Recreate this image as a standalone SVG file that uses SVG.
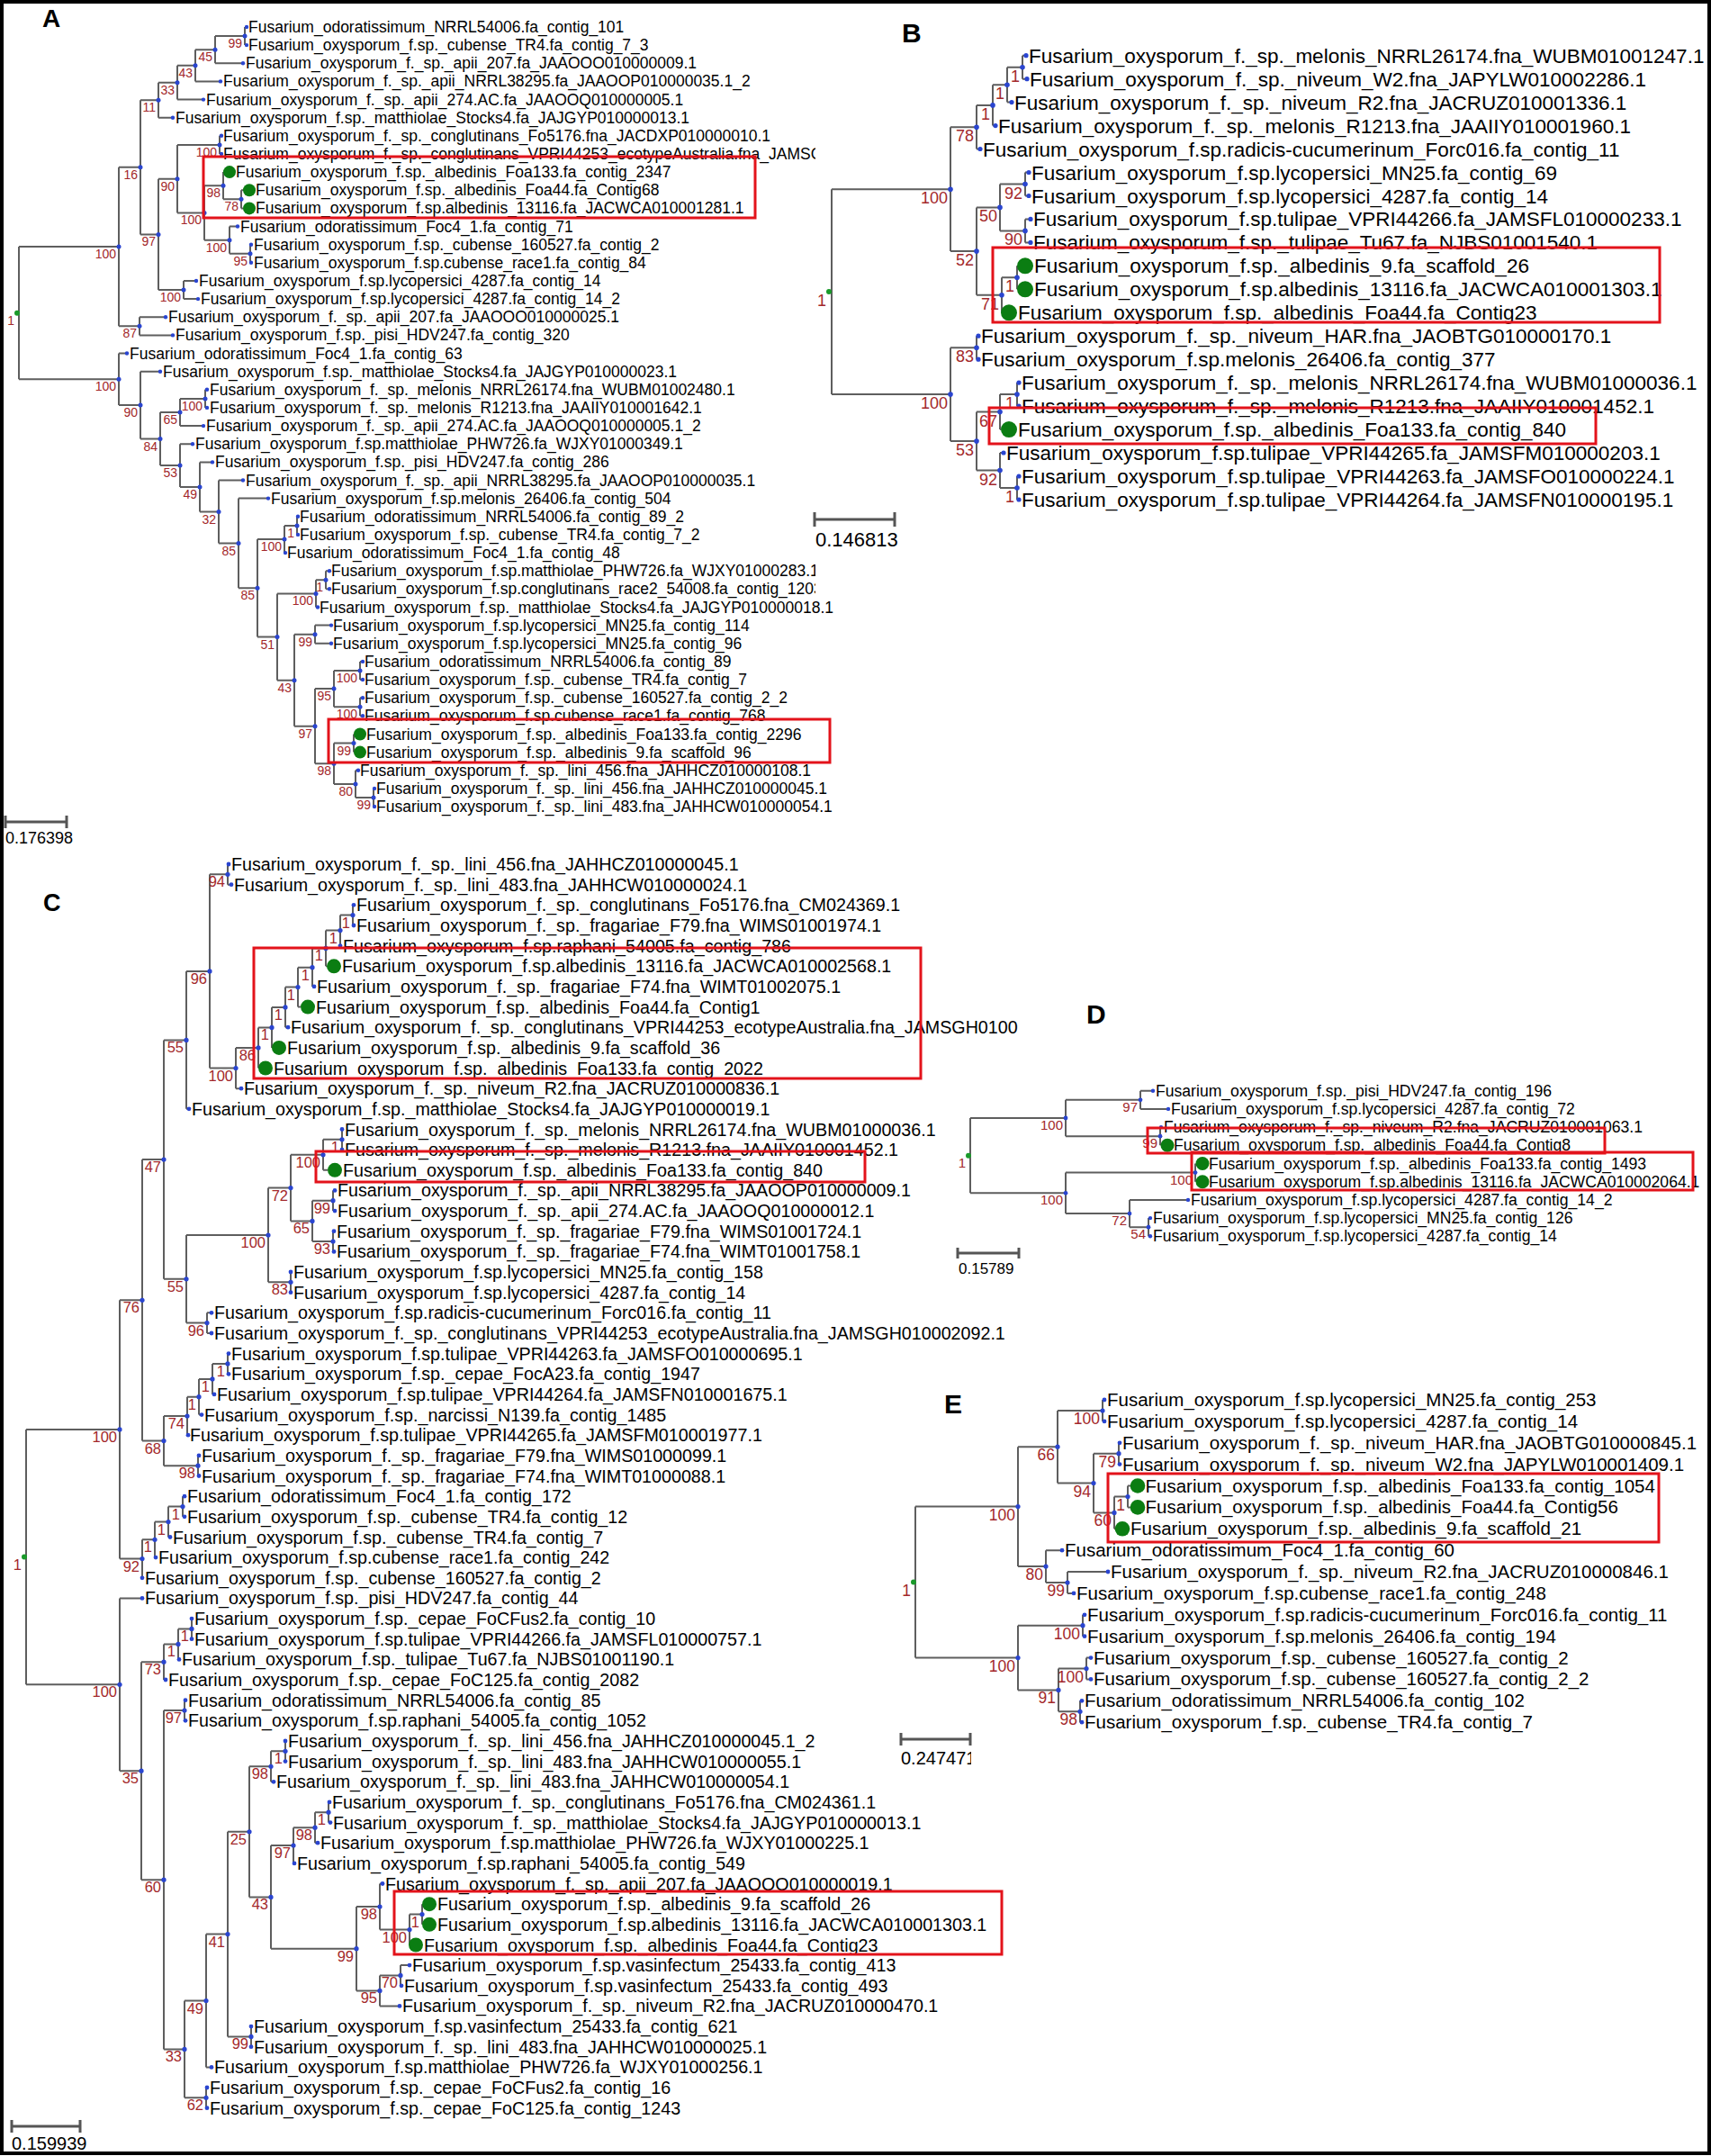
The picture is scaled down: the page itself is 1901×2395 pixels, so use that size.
<svg xmlns="http://www.w3.org/2000/svg" width="1901" height="2395" viewBox="0 0 1901 2395">
<style>
.t{font-family:"Liberation Sans",Arial,sans-serif;fill:#000}
.ta{font-size:17.5px}.tb{font-size:22.5px}.tc{font-size:19.7px}.td{font-size:17.6px}.te{font-size:20.5px}
.bs{font-family:"Liberation Sans",Arial,sans-serif;fill:#a3282b;text-anchor:end}
.ba{font-size:14px}.bb{font-size:18px}.bc{font-size:16.5px}.bq{font-size:15px}.be{font-size:17.5px}
.br{fill:none;stroke:#5e5e5e;stroke-width:2}
.nd{fill:#2a45d0}
.gd{fill:#0b7d12}
.rt{fill:#1a9a2a}
.box{fill:none;stroke:#e3131b;stroke-width:3}
.pl{font-family:"Liberation Sans",Arial,sans-serif;font-weight:bold;fill:#000}
.sb{fill:none;stroke:#555;stroke-width:3}
.st{font-family:"Liberation Sans",Arial,sans-serif;fill:#000}
</style>
<defs>
<clipPath id="clipA"><rect x="0" y="0" width="906" height="665"/><rect x="0" y="665" width="1901" height="280"/></clipPath>
<clipPath id="clipC"><rect x="0" y="940" width="1131" height="1450"/></clipPath>
<clipPath id="clipE"><rect x="990" y="1935" width="89" height="40"/></clipPath>
</defs>
<rect x="0" y="0" width="1901" height="2395" fill="#fff"/>

<!-- ================= PANEL A ================= -->
<text class="pl" x="47" y="30" font-size="28">A</text>
<g id="A-connectors">
<path class="br" d="M21 274.1V421.3M21 274.1H132M21 421.3H132
M132 185.8V362.3M132 185.8H156M132 362.3H155
M156 111.2V260.4M156 111.2H176M156 260.4H176
M176 91.7V130.7M176 91.7H197M176 130.7H192
M197 72.8V110.6M197 72.8H217M197 110.6H226
M217 55.2V90.4M217 55.2H239M217 90.4H245
M239 40.1V70.3M239 40.1H272M239 70.3H270
M272 30V50.1M272 30H274M272 50.1H274
M176 198.7V322M176 198.7H197M176 322H204
M197 160.9V236.4M197 160.9H244M197 236.4H227
M244 150.8V171M244 150.8H246M244 171H246
M227 206.2V266.7M227 206.2H248M227 266.7H255
M248 191.1V221.3M248 221.3H268
M268 211.3V231.4M268 211.3H270M268 231.4H270
M255 251.5V281.8M255 251.5H264M255 281.8H278
M278 271.7V291.8M278 271.7H279M278 291.8H279
M204 312V332.1M204 312H218M204 332.1H220
M155 352.2V372.4M155 352.2H184M155 372.4H192
M132 392.5V450.1M132 392.5H141M132 450.1H156
M156 412.7V487.5M156 412.7H178M156 487.5H178
M178 458V517.1M178 458H200M178 517.1H200
M200 442.9V473.1M200 442.9H228M200 473.1H226
M228 432.8V452.9M228 432.8H230M228 452.9H230
M200 493.2V540.9M200 493.2H214M200 540.9H222
M222 513.4V568.5M222 513.4H236M222 568.5H243
M243 533.5V603.5M243 533.5H270M243 603.5H265
M265 553.6V653.3M265 553.6H298M265 653.3H286
M286 599V707.5M286 599H316M286 707.5H308
M316 583.9V614.1M316 583.9H330M316 614.1H317
M330 573.8V593.9M330 573.8H331M330 593.9H331
M308 659.4V755.7M308 659.4H351M308 755.7H327
M351 644.3V674.5M351 644.3H362M351 674.5H353
M362 634.2V654.3M362 634.2H366M362 654.3H366
M327 704.7V806.7M327 704.7H350M327 806.7H350
M350 694.6V714.8M350 694.6H368M350 714.8H368
M350 765.1V848.2M350 765.1H371M350 848.2H371
M371 745V785.3M371 745H400M371 785.3H400
M400 734.9V755M400 734.9H403M400 755H403
M400 775.2V795.3M400 775.2H403M400 795.3H403
M371 825.5V870.9M371 825.5H393M371 870.9H395
M393 815.5V835.6
M395 855.7V886M395 855.7H398M395 886H415
M415 875.9V896M415 875.9H416M415 896H416"/>
</g>
<g id="A-internal">
<g id="A-root"><circle class="rt" cx="19" cy="347.7" r="3"/><text class="bs ba" x="16" y="360.7">1</text></g>
<g id="A-n99"><circle class="nd" cx="272" cy="40.1" r="2.5"/><text class="bs ba" x="269" y="53.1">99</text></g>
<g id="A-n45"><circle class="nd" cx="239" cy="55.2" r="2.5"/><text class="bs ba" x="236" y="68.2">45</text></g>
<g id="A-n43"><circle class="nd" cx="217" cy="72.8" r="2.5"/><text class="bs ba" x="214" y="85.8">43</text></g>
<g id="A-n33"><circle class="nd" cx="197" cy="91.7" r="2.5"/><text class="bs ba" x="194" y="104.7">33</text></g>
<g id="A-n11"><circle class="nd" cx="176" cy="111.2" r="2.5"/><text class="bs ba" x="173" y="124.2">11</text></g>
<g id="A-n16"><circle class="nd" cx="156" cy="185.8" r="2.5"/><text class="bs ba" x="153" y="198.8">16</text></g>
<g id="A-nCong"><circle class="nd" cx="244" cy="160.9" r="2.5"/><text class="bs ba" x="241" y="173.9">100</text></g>
<g id="A-n98"><circle class="nd" cx="248" cy="206.2" r="2.5"/><text class="bs ba" x="245" y="219.2">98</text></g>
<g id="A-n78"><circle class="nd" cx="268" cy="221.3" r="2.5"/><text class="bs ba" x="265" y="234.3">78</text></g>
<g id="A-nX"><circle class="nd" cx="227" cy="236.4" r="2.5"/><text class="bs ba" x="224" y="249.4">100</text></g>
<g id="A-n100c"><circle class="nd" cx="255" cy="266.7" r="2.5"/><text class="bs ba" x="252" y="279.7">100</text></g>
<g id="A-n95"><circle class="nd" cx="278" cy="281.8" r="2.5"/><text class="bs ba" x="275" y="294.8">95</text></g>
<g id="A-n90"><circle class="nd" cx="197" cy="198.7" r="2.5"/><text class="bs ba" x="194" y="211.7">90</text></g>
<g id="A-n97"><circle class="nd" cx="176" cy="260.4" r="2.5"/><text class="bs ba" x="173" y="273.4">97</text></g>
<g id="A-nLyc"><circle class="nd" cx="204" cy="322" r="2.5"/><text class="bs ba" x="201" y="335">100</text></g>
<g id="A-nTop"><circle class="nd" cx="132" cy="274.1" r="2.5"/><text class="bs ba" x="129" y="287.1">100</text></g>
<g id="A-n87"><circle class="nd" cx="155" cy="362.3" r="2.5"/><text class="bs ba" x="152" y="375.3">87</text></g>
<g id="A-nBot"><circle class="nd" cx="132" cy="421.3" r="2.5"/><text class="bs ba" x="129" y="434.3">100</text></g>
<g id="A-n90b"><circle class="nd" cx="156" cy="450.1" r="2.5"/><text class="bs ba" x="153" y="463.1">90</text></g>
<g id="A-n84"><circle class="nd" cx="178" cy="487.5" r="2.5"/><text class="bs ba" x="175" y="500.5">84</text></g>
<g id="A-n65"><circle class="nd" cx="200" cy="458" r="2.5"/><text class="bs ba" x="197" y="471">65</text></g>
<g id="A-n100m"><circle class="nd" cx="228" cy="442.9" r="2.5"/><text class="bs ba" x="225" y="455.9">100</text></g>
<g id="A-n53"><circle class="nd" cx="200" cy="517.1" r="2.5"/><text class="bs ba" x="197" y="530.1">53</text></g>
<g id="A-n49"><circle class="nd" cx="222" cy="540.9" r="2.5"/><text class="bs ba" x="219" y="553.9">49</text></g>
<g id="A-n32"><circle class="nd" cx="243" cy="568.5" r="2.5"/><text class="bs ba" x="240" y="581.5">32</text></g>
<g id="A-n85a"><circle class="nd" cx="265" cy="603.5" r="2.5"/><text class="bs ba" x="262" y="616.5">85</text></g>
<g id="A-n85b"><circle class="nd" cx="286" cy="653.3" r="2.5"/><text class="bs ba" x="283" y="666.3">85</text></g>
<g id="A-n100s1"><circle class="nd" cx="316" cy="599" r="2.5"/><text class="bs ba" x="313" y="612">100</text></g>
<g id="A-n1a"><circle class="nd" cx="330" cy="583.9" r="2.5"/><text class="bs ba" x="327" y="596.9">1</text></g>
<g id="A-n51"><circle class="nd" cx="308" cy="707.5" r="2.5"/><text class="bs ba" x="305" y="720.5">51</text></g>
<g id="A-n100s"><circle class="nd" cx="351" cy="659.4" r="2.5"/><text class="bs ba" x="348" y="672.4">100</text></g>
<g id="A-n1b"><circle class="nd" cx="362" cy="644.3" r="2.5"/><text class="bs ba" x="359" y="657.3">1</text></g>
<g id="A-n43b"><circle class="nd" cx="327" cy="755.7" r="2.5"/><text class="bs ba" x="324" y="768.7">43</text></g>
<g id="A-n99l"><circle class="nd" cx="350" cy="704.7" r="2.5"/><text class="bs ba" x="347" y="717.7">99</text></g>
<g id="A-n97b"><circle class="nd" cx="350" cy="806.7" r="2.5"/><text class="bs ba" x="347" y="819.7">97</text></g>
<g id="A-n95b"><circle class="nd" cx="371" cy="765.1" r="2.5"/><text class="bs ba" x="368" y="778.1">95</text></g>
<g id="A-n100p"><circle class="nd" cx="400" cy="745" r="2.5"/><text class="bs ba" x="397" y="758">100</text></g>
<g id="A-n100q"><circle class="nd" cx="400" cy="785.3" r="2.5"/><text class="bs ba" x="397" y="798.3">100</text></g>
<g id="A-n98b"><circle class="nd" cx="371" cy="848.2" r="2.5"/><text class="bs ba" x="368" y="861.2">98</text></g>
<g id="A-n99a"><circle class="nd" cx="393" cy="825.5" r="2.5"/><text class="bs ba" x="390" y="838.5">99</text></g>
<g id="A-n80"><circle class="nd" cx="395" cy="870.9" r="2.5"/><text class="bs ba" x="392" y="883.9">80</text></g>
<g id="A-n99lini"><circle class="nd" cx="415" cy="886" r="2.5"/><text class="bs ba" x="412" y="899">99</text></g>
</g>
<g id="A-leaves" clip-path="url(#clipA)">
<g id="A1"><circle class="nd" cx="274" cy="30" r="2.2"/><text class="t ta" x="276" y="36">Fusarium_odoratissimum_NRRL54006.fa_contig_101</text></g>
<g id="A2"><circle class="nd" cx="274" cy="50.1" r="2.2"/><text class="t ta" x="276" y="56.1">Fusarium_oxysporum_f.sp._cubense_TR4.fa_contig_7_3</text></g>
<g id="A3"><circle class="nd" cx="270" cy="70.3" r="2.2"/><text class="t ta" x="273" y="76.3">Fusarium_oxysporum_f._sp._apii_207.fa_JAAOOO010000009.1</text></g>
<g id="A4"><circle class="nd" cx="245" cy="90.4" r="2.2"/><text class="t ta" x="248" y="96.4">Fusarium_oxysporum_f._sp._apii_NRRL38295.fa_JAAOOP010000035.1_2</text></g>
<g id="A5"><circle class="nd" cx="226" cy="110.6" r="2.2"/><text class="t ta" x="229" y="116.6">Fusarium_oxysporum_f._sp._apii_274.AC.fa_JAAOOQ010000005.1</text></g>
<g id="A6"><circle class="nd" cx="192" cy="130.7" r="2.2"/><text class="t ta" x="195" y="136.7">Fusarium_oxysporum_f.sp._matthiolae_Stocks4.fa_JAJGYP010000013.1</text></g>
<g id="A7"><circle class="nd" cx="246" cy="150.8" r="2.2"/><text class="t ta" x="248" y="156.8">Fusarium_oxysporum_f._sp._conglutinans_Fo5176.fna_JACDXP010000010.1</text></g>
<g id="A8"><circle class="nd" cx="246" cy="171" r="2.2"/><text class="t ta" x="248" y="177">Fusarium_oxysporum_f._sp._conglutinans_VPRI44253_ecotypeAustralia.fna_JAMSGH010000000.1</text></g>
<g id="A9"><circle class="gd" cx="255" cy="191.1" r="7"/><text class="t ta" x="262" y="197.1">Fusarium_oxysporum_f.sp._albedinis_Foa133.fa_contig_2347</text></g>
<g id="A10"><circle class="gd" cx="277" cy="211.3" r="7"/><text class="t ta" x="284" y="217.3">Fusarium_oxysporum_f.sp._albedinis_Foa44.fa_Contig68</text></g>
<g id="A11"><circle class="gd" cx="277" cy="231.4" r="7"/><text class="t ta" x="284" y="237.4">Fusarium_oxysporum_f.sp.albedinis_13116.fa_JACWCA010001281.1</text></g>
<g id="A12"><circle class="nd" cx="264" cy="251.5" r="2.2"/><text class="t ta" x="267" y="257.5">Fusarium_odoratissimum_Foc4_1.fa_contig_71</text></g>
<g id="A13"><circle class="nd" cx="279" cy="271.7" r="2.2"/><text class="t ta" x="282" y="277.7">Fusarium_oxysporum_f.sp._cubense_160527.fa_contig_2</text></g>
<g id="A14"><circle class="nd" cx="279" cy="291.8" r="2.2"/><text class="t ta" x="282" y="297.8">Fusarium_oxysporum_f.sp.cubense_race1.fa_contig_84</text></g>
<g id="A15"><circle class="nd" cx="218" cy="312" r="2.2"/><text class="t ta" x="221" y="318">Fusarium_oxysporum_f.sp.lycopersici_4287.fa_contig_14</text></g>
<g id="A16"><circle class="nd" cx="220" cy="332.1" r="2.2"/><text class="t ta" x="223" y="338.1">Fusarium_oxysporum_f.sp.lycopersici_4287.fa_contig_14_2</text></g>
<g id="A17"><circle class="nd" cx="184" cy="352.2" r="2.2"/><text class="t ta" x="187" y="358.2">Fusarium_oxysporum_f._sp._apii_207.fa_JAAOOO010000025.1</text></g>
<g id="A18"><circle class="nd" cx="192" cy="372.4" r="2.2"/><text class="t ta" x="195" y="378.4">Fusarium_oxysporum_f.sp._pisi_HDV247.fa_contig_320</text></g>
<g id="A19"><circle class="nd" cx="141" cy="392.5" r="2.2"/><text class="t ta" x="144" y="398.5">Fusarium_odoratissimum_Foc4_1.fa_contig_63</text></g>
<g id="A20"><circle class="nd" cx="178" cy="412.7" r="2.2"/><text class="t ta" x="181" y="418.7">Fusarium_oxysporum_f.sp._matthiolae_Stocks4.fa_JAJGYP010000023.1</text></g>
<g id="A21"><circle class="nd" cx="230" cy="432.8" r="2.2"/><text class="t ta" x="233" y="438.8">Fusarium_oxysporum_f._sp._melonis_NRRL26174.fna_WUBM01002480.1</text></g>
<g id="A22"><circle class="nd" cx="230" cy="452.9" r="2.2"/><text class="t ta" x="233" y="458.9">Fusarium_oxysporum_f._sp._melonis_R1213.fna_JAAIIY010001642.1</text></g>
<g id="A23"><circle class="nd" cx="226" cy="473.1" r="2.2"/><text class="t ta" x="229" y="479.1">Fusarium_oxysporum_f._sp._apii_274.AC.fa_JAAOOQ010000005.1_2</text></g>
<g id="A24"><circle class="nd" cx="214" cy="493.2" r="2.2"/><text class="t ta" x="217" y="499.2">Fusarium_oxysporum_f.sp.matthiolae_PHW726.fa_WJXY01000349.1</text></g>
<g id="A25"><circle class="nd" cx="236" cy="513.4" r="2.2"/><text class="t ta" x="239" y="519.4">Fusarium_oxysporum_f.sp._pisi_HDV247.fa_contig_286</text></g>
<g id="A26"><circle class="nd" cx="270" cy="533.5" r="2.2"/><text class="t ta" x="273" y="539.5">Fusarium_oxysporum_f._sp._apii_NRRL38295.fa_JAAOOP010000035.1</text></g>
<g id="A27"><circle class="nd" cx="298" cy="553.6" r="2.2"/><text class="t ta" x="301" y="559.6">Fusarium_oxysporum_f.sp.melonis_26406.fa_contig_504</text></g>
<g id="A28"><circle class="nd" cx="331" cy="573.8" r="2.2"/><text class="t ta" x="333" y="579.8">Fusarium_odoratissimum_NRRL54006.fa_contig_89_2</text></g>
<g id="A29"><circle class="nd" cx="331" cy="593.9" r="2.2"/><text class="t ta" x="333" y="599.9">Fusarium_oxysporum_f.sp._cubense_TR4.fa_contig_7_2</text></g>
<g id="A30"><circle class="nd" cx="317" cy="614.1" r="2.2"/><text class="t ta" x="319" y="620.1">Fusarium_odoratissimum_Foc4_1.fa_contig_48</text></g>
<g id="A31"><circle class="nd" cx="366" cy="634.2" r="2.2"/><text class="t ta" x="368" y="640.2">Fusarium_oxysporum_f.sp.matthiolae_PHW726.fa_WJXY01000283.1</text></g>
<g id="A32"><circle class="nd" cx="366" cy="654.3" r="2.2"/><text class="t ta" x="368" y="660.3">Fusarium_oxysporum_f.sp.conglutinans_race2_54008.fa_contig_1203</text></g>
<g id="A33"><circle class="nd" cx="353" cy="674.5" r="2.2"/><text class="t ta" x="355" y="680.5">Fusarium_oxysporum_f.sp._matthiolae_Stocks4.fa_JAJGYP010000018.1</text></g>
<g id="A34"><circle class="nd" cx="368" cy="694.6" r="2.2"/><text class="t ta" x="370" y="700.6">Fusarium_oxysporum_f.sp.lycopersici_MN25.fa_contig_114</text></g>
<g id="A35"><circle class="nd" cx="368" cy="714.8" r="2.2"/><text class="t ta" x="370" y="720.8">Fusarium_oxysporum_f.sp.lycopersici_MN25.fa_contig_96</text></g>
<g id="A36"><circle class="nd" cx="403" cy="734.9" r="2.2"/><text class="t ta" x="405" y="740.9">Fusarium_odoratissimum_NRRL54006.fa_contig_89</text></g>
<g id="A37"><circle class="nd" cx="403" cy="755" r="2.2"/><text class="t ta" x="405" y="761">Fusarium_oxysporum_f.sp._cubense_TR4.fa_contig_7</text></g>
<g id="A38"><circle class="nd" cx="403" cy="775.2" r="2.2"/><text class="t ta" x="405" y="781.2">Fusarium_oxysporum_f.sp._cubense_160527.fa_contig_2_2</text></g>
<g id="A39"><circle class="nd" cx="403" cy="795.3" r="2.2"/><text class="t ta" x="405" y="801.3">Fusarium_oxysporum_f.sp.cubense_race1.fa_contig_768</text></g>
<g id="A40"><circle class="gd" cx="400" cy="815.5" r="7"/><text class="t ta" x="407" y="821.5">Fusarium_oxysporum_f.sp._albedinis_Foa133.fa_contig_2296</text></g>
<g id="A41"><circle class="gd" cx="400" cy="835.6" r="7"/><text class="t ta" x="407" y="841.6">Fusarium_oxysporum_f.sp._albedinis_9.fa_scaffold_96</text></g>
<g id="A42"><circle class="nd" cx="398" cy="855.7" r="2.2"/><text class="t ta" x="400" y="861.7">Fusarium_oxysporum_f._sp._lini_456.fna_JAHHCZ010000108.1</text></g>
<g id="A43"><circle class="nd" cx="416" cy="875.9" r="2.2"/><text class="t ta" x="418" y="881.9">Fusarium_oxysporum_f._sp._lini_456.fna_JAHHCZ010000045.1</text></g>
<g id="A44"><circle class="nd" cx="416" cy="896" r="2.2"/><text class="t ta" x="418" y="902">Fusarium_oxysporum_f._sp._lini_483.fna_JAHHCW010000054.1</text></g>
</g>
<g id="A-boxes"><rect class="box" x="226" y="174" width="613" height="68"/><rect class="box" x="365" y="799" width="557" height="48"/></g>
<g id="A-scale"><path class="sb" d="M6 913H74M6 906V920M74 906V920"/><text class="st" x="6" y="937" font-size="18">0.176398</text></g>

<!-- ================= PANEL B ================= -->
<text class="pl" x="1002" y="47" font-size="30">B</text>
<g id="B-connectors">
<path class="br" d="M924 210.2V438.1M924 210.2H1056M924 438.1H1056
M1056 141.2V279.1M1056 141.2H1085M1056 279.1H1085
M1085 116.9V165.5M1085 116.9H1103M1085 165.5H1089
M1103 94.2V139.6M1103 94.2H1119M1103 139.6H1106
M1119 74.7V113.6M1119 74.7H1136M1119 113.6H1124
M1136 61.7V87.7M1136 61.7H1140M1136 87.7H1141
M1085 230.4V327.8M1085 230.4H1111M1085 327.8H1113
M1111 204.5V256.4M1111 204.5H1139M1111 256.4H1139
M1139 191.5V217.5M1139 191.5H1143M1139 217.5H1143
M1139 243.4V269.4M1139 243.4H1145M1139 269.4H1145
M1113 308.3V347.3M1113 308.3H1130
M1130 295.3V321.3
M1056 386.2V490.1M1056 386.2H1085M1056 490.1H1085
M1085 373.2V399.2M1085 373.2H1087M1085 399.2H1087
M1085 457.6V522.5M1085 457.6H1111M1085 522.5H1111
M1111 438.1V477.1M1111 438.1H1130M1111 477.1H1112
M1130 425.1V451.1M1130 425.1H1132M1130 451.1H1132
M1111 503V542M1111 503H1115M1111 542H1130
M1130 529V555M1130 529H1132M1130 555H1132"/>
</g>
<g id="B-internal">
<g id="B-root"><circle class="rt" cx="921" cy="324.1" r="3"/><text class="bs bb" x="918" y="340.1">1</text></g>
<g id="B-n1c"><circle class="nd" cx="1136" cy="74.7" r="2.8"/><text class="bs bb" x="1133" y="90.7">1</text></g>
<g id="B-n1b"><circle class="nd" cx="1119" cy="94.2" r="2.8"/><text class="bs bb" x="1116" y="110.2">1</text></g>
<g id="B-n1a"><circle class="nd" cx="1103" cy="116.9" r="2.8"/><text class="bs bb" x="1100" y="132.9">1</text></g>
<g id="B-n78"><circle class="nd" cx="1085" cy="141.2" r="2.8"/><text class="bs bb" x="1082" y="157.2">78</text></g>
<g id="B-nT100"><circle class="nd" cx="1056" cy="210.2" r="2.8"/><text class="bs bb" x="1053" y="226.2">100</text></g>
<g id="B-n92"><circle class="nd" cx="1139" cy="204.5" r="2.8"/><text class="bs bb" x="1136" y="220.5">92</text></g>
<g id="B-n50"><circle class="nd" cx="1111" cy="230.4" r="2.8"/><text class="bs bb" x="1108" y="246.4">50</text></g>
<g id="B-n90"><circle class="nd" cx="1139" cy="256.4" r="2.8"/><text class="bs bb" x="1136" y="272.4">90</text></g>
<g id="B-n52"><circle class="nd" cx="1085" cy="279.1" r="2.8"/><text class="bs bb" x="1082" y="295.1">52</text></g>
<g id="B-n1g"><circle class="nd" cx="1130" cy="308.3" r="2.8"/><text class="bs bb" x="1127" y="324.3">1</text></g>
<g id="B-n71"><circle class="nd" cx="1113" cy="327.8" r="2.8"/><text class="bs bb" x="1110" y="343.8">71</text></g>
<g id="B-n83"><circle class="nd" cx="1085" cy="386.2" r="2.8"/><text class="bs bb" x="1082" y="402.2">83</text></g>
<g id="B-nB100"><circle class="nd" cx="1056" cy="438.1" r="2.8"/><text class="bs bb" x="1053" y="454.1">100</text></g>
<g id="B-n1m"><circle class="nd" cx="1130" cy="438.1" r="2.8"/><text class="bs bb" x="1127" y="454.1">1</text></g>
<g id="B-n67"><circle class="nd" cx="1111" cy="457.6" r="2.8"/><text class="bs bb" x="1108" y="473.6">67</text></g>
<g id="B-n53"><circle class="nd" cx="1085" cy="490.1" r="2.8"/><text class="bs bb" x="1082" y="506.1">53</text></g>
<g id="B-n92b"><circle class="nd" cx="1111" cy="522.5" r="2.8"/><text class="bs bb" x="1108" y="538.5">92</text></g>
<g id="B-n1t"><circle class="nd" cx="1130" cy="542" r="2.8"/><text class="bs bb" x="1127" y="558">1</text></g>
</g>
<g id="B-leaves">
<g id="B1"><circle class="nd" cx="1140" cy="61.7" r="2.6"/><text class="t tb" x="1143" y="69.7">Fusarium_oxysporum_f._sp._melonis_NRRL26174.fna_WUBM01001247.1</text></g>
<g id="B2"><circle class="nd" cx="1141" cy="87.7" r="2.6"/><text class="t tb" x="1144" y="95.7">Fusarium_oxysporum_f._sp._niveum_W2.fna_JAPYLW010002286.1</text></g>
<g id="B3"><circle class="nd" cx="1124" cy="113.6" r="2.6"/><text class="t tb" x="1127" y="121.6">Fusarium_oxysporum_f._sp._niveum_R2.fna_JACRUZ010001336.1</text></g>
<g id="B4"><circle class="nd" cx="1106" cy="139.6" r="2.6"/><text class="t tb" x="1109" y="147.6">Fusarium_oxysporum_f._sp._melonis_R1213.fna_JAAIIY010001960.1</text></g>
<g id="B5"><circle class="nd" cx="1089" cy="165.5" r="2.6"/><text class="t tb" x="1092" y="173.5">Fusarium_oxysporum_f.sp.radicis-cucumerinum_Forc016.fa_contig_11</text></g>
<g id="B6"><circle class="nd" cx="1143" cy="191.5" r="2.6"/><text class="t tb" x="1146" y="199.5">Fusarium_oxysporum_f.sp.lycopersici_MN25.fa_contig_69</text></g>
<g id="B7"><circle class="nd" cx="1143" cy="217.5" r="2.6"/><text class="t tb" x="1146" y="225.5">Fusarium_oxysporum_f.sp.lycopersici_4287.fa_contig_14</text></g>
<g id="B8"><circle class="nd" cx="1145" cy="243.4" r="2.6"/><text class="t tb" x="1148" y="251.4">Fusarium_oxysporum_f.sp.tulipae_VPRI44266.fa_JAMSFL010000233.1</text></g>
<g id="B9"><circle class="nd" cx="1145" cy="269.4" r="2.6"/><text class="t tb" x="1148" y="277.4">Fusarium_oxysporum_f.sp._tulipae_Tu67.fa_NJBS01001540.1</text></g>
<g id="B10"><circle class="gd" cx="1139" cy="295.3" r="9"/><text class="t tb" x="1149" y="303.3">Fusarium_oxysporum_f.sp._albedinis_9.fa_scaffold_26</text></g>
<g id="B11"><circle class="gd" cx="1139" cy="321.3" r="9"/><text class="t tb" x="1149" y="329.3">Fusarium_oxysporum_f.sp.albedinis_13116.fa_JACWCA010001303.1</text></g>
<g id="B12"><circle class="gd" cx="1121" cy="347.3" r="9"/><text class="t tb" x="1131" y="355.3">Fusarium_oxysporum_f.sp._albedinis_Foa44.fa_Contig23</text></g>
<g id="B13"><circle class="nd" cx="1087" cy="373.2" r="2.6"/><text class="t tb" x="1090" y="381.2">Fusarium_oxysporum_f._sp._niveum_HAR.fna_JAOBTG010000170.1</text></g>
<g id="B14"><circle class="nd" cx="1087" cy="399.2" r="2.6"/><text class="t tb" x="1090" y="407.2">Fusarium_oxysporum_f.sp.melonis_26406.fa_contig_377</text></g>
<g id="B15"><circle class="nd" cx="1132" cy="425.1" r="2.6"/><text class="t tb" x="1135" y="433.1">Fusarium_oxysporum_f._sp._melonis_NRRL26174.fna_WUBM01000036.1</text></g>
<g id="B16"><circle class="nd" cx="1132" cy="451.1" r="2.6"/><text class="t tb" x="1135" y="459.1">Fusarium_oxysporum_f._sp._melonis_R1213.fna_JAAIIY010001452.1</text></g>
<g id="B17"><circle class="gd" cx="1121" cy="477.1" r="9"/><text class="t tb" x="1131" y="485.1">Fusarium_oxysporum_f.sp._albedinis_Foa133.fa_contig_840</text></g>
<g id="B18"><circle class="nd" cx="1115" cy="503" r="2.6"/><text class="t tb" x="1118" y="511">Fusarium_oxysporum_f.sp.tulipae_VPRI44265.fa_JAMSFM010000203.1</text></g>
<g id="B19"><circle class="nd" cx="1132" cy="529" r="2.6"/><text class="t tb" x="1135" y="537">Fusarium_oxysporum_f.sp.tulipae_VPRI44263.fa_JAMSFO010000224.1</text></g>
<g id="B20"><circle class="nd" cx="1132" cy="555" r="2.6"/><text class="t tb" x="1135" y="563">Fusarium_oxysporum_f.sp.tulipae_VPRI44264.fa_JAMSFN010000195.1</text></g>
</g>
<g id="B-boxes"><rect class="box" x="1103" y="275" width="741" height="83"/><rect class="box" x="1099" y="453" width="674" height="40"/></g>
<g id="B-scale"><path class="sb" d="M905 577H994M905 569V585M994 569V585"/><text class="st" x="906" y="607" font-size="22">0.146813</text></g>

<!-- ================= PANEL C ================= -->
<text class="pl" x="48" y="1012" font-size="27">C</text>
<g id="C-connectors">
<path class="br" d="M29 1587.9V1871.3M29 1587.9H133M29 1871.3H133
M133 1444.3V1731.5M133 1444.3H158M133 1731.5H158
M158 1288.1V1600.6M158 1288.1H182M158 1600.6H182
M182 1155.4V1420.8M182 1155.4H207M182 1420.8H207
M207 1078.9V1231.8M207 1078.9H233M207 1231.8H210
M233 971.3V1186.5M233 971.3H253M233 1186.5H262
M253 960V982.7M253 960H254M253 982.7H257
M262 1163.9V1209.2M262 1163.9H287M262 1209.2H268
M287 1141.4V1186.5M287 1141.4H302
M302 1118.9V1163.9M302 1118.9H317
M317 1096.6V1141.2M317 1096.6H331M317 1141.2H320
M331 1074.7V1118.6M331 1074.7H347M331 1118.6H334
M347 1053.4V1095.9M347 1053.4H362M347 1095.9H349
M362 1033.6V1073.3M362 1033.6H378M362 1073.3H363
M378 1016.6V1050.6M378 1016.6H392
M392 1005.3V1028M392 1005.3H393M392 1028H393
M207 1372V1469.6M207 1372H298M207 1469.6H230
M298 1319.6V1424.3M298 1319.6H323M298 1424.3H323
M323 1282.8V1356.4M323 1282.8H359M323 1356.4H347
M359 1265.8V1299.8M359 1265.8H380M359 1299.8H364
M380 1254.5V1277.1
M347 1333.7V1379M347 1333.7H370M347 1379H370
M370 1322.4V1345.1M370 1322.4H372M370 1345.1H372
M370 1367.7V1390.4M370 1367.7H371M370 1390.4H371
M323 1413V1435.7
M230 1458.3V1481M230 1458.3H235M230 1481H235
M182 1573V1628.2M182 1573H208M182 1628.2H220
M208 1551.7V1594.2M208 1551.7H221M208 1594.2H209
M221 1531.9V1571.6M221 1531.9H236M221 1571.6H224
M236 1514.9V1548.9M236 1514.9H253M236 1548.9H238
M253 1503.6V1526.3M253 1503.6H254M253 1526.3H254
M220 1616.9V1639.5M220 1616.9H221M220 1639.5H221
M158 1710.3V1752.8M158 1710.3H172
M172 1690.5V1730.1M172 1690.5H187M172 1730.1H173
M187 1673.5V1707.5M187 1673.5H203M187 1707.5H189
M203 1662.2V1684.8M203 1662.2H205M203 1684.8H205
M133 1775.4V1967.2M133 1775.4H158M133 1967.2H157
M157 1846.2V2088.2M157 1846.2H182M157 2088.2H182
M182 1826.4V1866M182 1826.4H198M182 1866H184
M198 1809.4V1843.4M198 1809.4H213M198 1843.4H199
M213 1798.1V1820.7
M182 1900V2276.4M182 1900H205M182 2276.4H205
M205 1888.7V1911.3M205 1888.7H206M205 1911.3H206
M205 2222.5V2330.3M205 2222.5H229M205 2330.3H229
M229 2148.6V2296.4M229 2148.6H253M229 2296.4H235
M229 2319V2341.7M229 2319H230M229 2341.7H230
M253 2034.8V2262.4M253 2034.8H277M253 2262.4H279
M279 2251.1V2273.7
M277 1962.3V2107.4M277 1962.3H301M277 2107.4H301
M301 1945.3V1979.3M301 1945.3H317M301 1979.3H304
M317 1934V1956.6
M301 2050V2164.7M301 2050H326M301 2164.7H396
M326 2030.2V2069.9M326 2030.2H350M326 2069.9H327
M350 2013.2V2047.2M350 2013.2H365M350 2047.2H353
M365 2001.9V2024.6M365 2001.9H366M365 2024.6H367
M396 2118V2211.4M396 2118H422M396 2211.4H422
M422 2092.5V2143.5M422 2092.5H425M422 2143.5H455
M455 2126.5V2160.5M455 2126.5H469
M469 2115.2V2137.8
M422 2194.4V2228.4M422 2194.4H445M422 2228.4H444
M445 2183.1V2205.8M445 2183.1H455M445 2205.8H446"/>
</g>
<g id="C-internal">
<g id="C-root"><circle class="rt" cx="27" cy="1729.6" r="3"/><text class="bs bc" x="24" y="1743.6">1</text></g>
<g id="C-n94"><circle class="nd" cx="253" cy="971.3" r="2.6"/><text class="bs bc" x="250" y="985.3">94</text></g>
<g id="C-na"><circle class="nd" cx="392" cy="1016.6" r="2.6"/><text class="bs bc" x="389" y="1030.6">1</text></g>
<g id="C-nb"><circle class="nd" cx="378" cy="1033.6" r="2.6"/><text class="bs bc" x="375" y="1047.6">1</text></g>
<g id="C-nc"><circle class="nd" cx="362" cy="1053.4" r="2.6"/><text class="bs bc" x="359" y="1067.4">1</text></g>
<g id="C-nd"><circle class="nd" cx="347" cy="1074.7" r="2.6"/><text class="bs bc" x="344" y="1088.7">1</text></g>
<g id="C-ne"><circle class="nd" cx="331" cy="1096.6" r="2.6"/><text class="bs bc" x="328" y="1110.6">1</text></g>
<g id="C-nf"><circle class="nd" cx="317" cy="1118.9" r="2.6"/><text class="bs bc" x="314" y="1132.9">1</text></g>
<g id="C-ng"><circle class="nd" cx="302" cy="1141.4" r="2.6"/><text class="bs bc" x="299" y="1155.4">1</text></g>
<g id="C-n86"><circle class="nd" cx="287" cy="1163.9" r="2.6"/><text class="bs bc" x="284" y="1177.9">86</text></g>
<g id="C-n100c"><circle class="nd" cx="262" cy="1186.5" r="2.6"/><text class="bs bc" x="259" y="1200.5">100</text></g>
<g id="C-n96"><circle class="nd" cx="233" cy="1078.9" r="2.6"/><text class="bs bc" x="230" y="1092.9">96</text></g>
<g id="C-n55a"><circle class="nd" cx="207" cy="1155.4" r="2.6"/><text class="bs bc" x="204" y="1169.4">55</text></g>
<g id="C-n1m"><circle class="nd" cx="380" cy="1265.8" r="2.6"/><text class="bs bc" x="377" y="1279.8">1</text></g>
<g id="C-n100d"><circle class="nd" cx="359" cy="1282.8" r="2.6"/><text class="bs bc" x="356" y="1296.8">100</text></g>
<g id="C-n99c"><circle class="nd" cx="370" cy="1333.7" r="2.6"/><text class="bs bc" x="367" y="1347.7">99</text></g>
<g id="C-n93"><circle class="nd" cx="370" cy="1379" r="2.6"/><text class="bs bc" x="367" y="1393">93</text></g>
<g id="C-n65"><circle class="nd" cx="347" cy="1356.4" r="2.6"/><text class="bs bc" x="344" y="1370.4">65</text></g>
<g id="C-n72"><circle class="nd" cx="323" cy="1319.6" r="2.6"/><text class="bs bc" x="320" y="1333.6">72</text></g>
<g id="C-n83"><circle class="nd" cx="323" cy="1424.3" r="2.6"/><text class="bs bc" x="320" y="1438.3">83</text></g>
<g id="C-n100m"><circle class="nd" cx="298" cy="1372" r="2.6"/><text class="bs bc" x="295" y="1386">100</text></g>
<g id="C-n96b"><circle class="nd" cx="230" cy="1469.6" r="2.6"/><text class="bs bc" x="227" y="1483.6">96</text></g>
<g id="C-n55b"><circle class="nd" cx="207" cy="1420.8" r="2.6"/><text class="bs bc" x="204" y="1434.8">55</text></g>
<g id="C-n47"><circle class="nd" cx="182" cy="1288.1" r="2.6"/><text class="bs bc" x="179" y="1302.1">47</text></g>
<g id="C-np"><circle class="nd" cx="253" cy="1514.9" r="2.6"/><text class="bs bc" x="250" y="1528.9">1</text></g>
<g id="C-nq"><circle class="nd" cx="236" cy="1531.9" r="2.6"/><text class="bs bc" x="233" y="1545.9">1</text></g>
<g id="C-nr"><circle class="nd" cx="221" cy="1551.7" r="2.6"/><text class="bs bc" x="218" y="1565.7">1</text></g>
<g id="C-n74"><circle class="nd" cx="208" cy="1573" r="2.6"/><text class="bs bc" x="205" y="1587">74</text></g>
<g id="C-n98c"><circle class="nd" cx="220" cy="1628.2" r="2.6"/><text class="bs bc" x="217" y="1642.2">98</text></g>
<g id="C-n68"><circle class="nd" cx="182" cy="1600.6" r="2.6"/><text class="bs bc" x="179" y="1614.6">68</text></g>
<g id="C-n76"><circle class="nd" cx="158" cy="1444.3" r="2.6"/><text class="bs bc" x="155" y="1458.3">76</text></g>
<g id="C-ns"><circle class="nd" cx="203" cy="1673.5" r="2.6"/><text class="bs bc" x="200" y="1687.5">1</text></g>
<g id="C-nt"><circle class="nd" cx="187" cy="1690.5" r="2.6"/><text class="bs bc" x="184" y="1704.5">1</text></g>
<g id="C-nu"><circle class="nd" cx="172" cy="1710.3" r="2.6"/><text class="bs bc" x="169" y="1724.3">1</text></g>
<g id="C-n92"><circle class="nd" cx="158" cy="1731.5" r="2.6"/><text class="bs bc" x="155" y="1745.5">92</text></g>
<g id="C-nT100"><circle class="nd" cx="133" cy="1587.9" r="2.6"/><text class="bs bc" x="130" y="1601.9">100</text></g>
<g id="C-nv"><circle class="nd" cx="213" cy="1809.4" r="2.6"/><text class="bs bc" x="210" y="1823.4">1</text></g>
<g id="C-nw"><circle class="nd" cx="198" cy="1826.4" r="2.6"/><text class="bs bc" x="195" y="1840.4">1</text></g>
<g id="C-n73"><circle class="nd" cx="182" cy="1846.2" r="2.6"/><text class="bs bc" x="179" y="1860.2">73</text></g>
<g id="C-n97c"><circle class="nd" cx="205" cy="1900" r="2.6"/><text class="bs bc" x="202" y="1914">97</text></g>
<g id="C-n1L"><circle class="nd" cx="317" cy="1945.3" r="2.6"/><text class="bs bc" x="314" y="1959.3">1</text></g>
<g id="C-n98L"><circle class="nd" cx="301" cy="1962.3" r="2.6"/><text class="bs bc" x="298" y="1976.3">98</text></g>
<g id="C-n1c2"><circle class="nd" cx="365" cy="2013.2" r="2.6"/><text class="bs bc" x="362" y="2027.2">1</text></g>
<g id="C-n98m"><circle class="nd" cx="350" cy="2030.2" r="2.6"/><text class="bs bc" x="347" y="2044.2">98</text></g>
<g id="C-n97L"><circle class="nd" cx="326" cy="2050" r="2.6"/><text class="bs bc" x="323" y="2064">97</text></g>
<g id="C-n1A"><circle class="nd" cx="469" cy="2126.5" r="2.6"/><text class="bs bc" x="466" y="2140.5">1</text></g>
<g id="C-n100A"><circle class="nd" cx="455" cy="2143.5" r="2.6"/><text class="bs bc" x="452" y="2157.5">100</text></g>
<g id="C-n98A"><circle class="nd" cx="422" cy="2118" r="2.6"/><text class="bs bc" x="419" y="2132">98</text></g>
<g id="C-n70"><circle class="nd" cx="445" cy="2194.4" r="2.6"/><text class="bs bc" x="442" y="2208.4">70</text></g>
<g id="C-n95"><circle class="nd" cx="422" cy="2211.4" r="2.6"/><text class="bs bc" x="419" y="2225.4">95</text></g>
<g id="C-n99A"><circle class="nd" cx="396" cy="2164.7" r="2.6"/><text class="bs bc" x="393" y="2178.7">99</text></g>
<g id="C-n43"><circle class="nd" cx="301" cy="2107.4" r="2.6"/><text class="bs bc" x="298" y="2121.4">43</text></g>
<g id="C-n25"><circle class="nd" cx="277" cy="2034.8" r="2.6"/><text class="bs bc" x="274" y="2048.8">25</text></g>
<g id="C-n99L"><circle class="nd" cx="279" cy="2262.4" r="2.6"/><text class="bs bc" x="276" y="2276.4">99</text></g>
<g id="C-n41"><circle class="nd" cx="253" cy="2148.6" r="2.6"/><text class="bs bc" x="250" y="2162.6">41</text></g>
<g id="C-n49"><circle class="nd" cx="229" cy="2222.5" r="2.6"/><text class="bs bc" x="226" y="2236.5">49</text></g>
<g id="C-n62"><circle class="nd" cx="229" cy="2330.3" r="2.6"/><text class="bs bc" x="226" y="2344.3">62</text></g>
<g id="C-n33"><circle class="nd" cx="205" cy="2276.4" r="2.6"/><text class="bs bc" x="202" y="2290.4">33</text></g>
<g id="C-n60"><circle class="nd" cx="182" cy="2088.2" r="2.6"/><text class="bs bc" x="179" y="2102.2">60</text></g>
<g id="C-n35"><circle class="nd" cx="157" cy="1967.2" r="2.6"/><text class="bs bc" x="154" y="1981.2">35</text></g>
<g id="C-nB100"><circle class="nd" cx="133" cy="1871.3" r="2.6"/><text class="bs bc" x="130" y="1885.3">100</text></g>
</g>
<g id="C-leaves" clip-path="url(#clipC)">
<g id="C1"><circle class="nd" cx="254" cy="960" r="2.4"/><text class="t tc" x="257" y="967">Fusarium_oxysporum_f._sp._lini_456.fna_JAHHCZ010000045.1</text></g>
<g id="C2"><circle class="nd" cx="257" cy="982.7" r="2.4"/><text class="t tc" x="260" y="989.7">Fusarium_oxysporum_f._sp._lini_483.fna_JAHHCW010000024.1</text></g>
<g id="C3"><circle class="nd" cx="393" cy="1005.3" r="2.4"/><text class="t tc" x="396" y="1012.3">Fusarium_oxysporum_f._sp._conglutinans_Fo5176.fna_CM024369.1</text></g>
<g id="C4"><circle class="nd" cx="393" cy="1028" r="2.4"/><text class="t tc" x="396" y="1035">Fusarium_oxysporum_f._sp._fragariae_F79.fna_WIMS01001974.1</text></g>
<g id="C5"><circle class="nd" cx="378" cy="1050.6" r="2.4"/><text class="t tc" x="381" y="1057.6">Fusarium_oxysporum_f.sp.raphani_54005.fa_contig_786</text></g>
<g id="C6"><circle class="gd" cx="371" cy="1073.3" r="8"/><text class="t tc" x="380" y="1080.3">Fusarium_oxysporum_f.sp.albedinis_13116.fa_JACWCA010002568.1</text></g>
<g id="C7"><circle class="nd" cx="349" cy="1095.9" r="2.4"/><text class="t tc" x="352" y="1102.9">Fusarium_oxysporum_f._sp._fragariae_F74.fna_WIMT01002075.1</text></g>
<g id="C8"><circle class="gd" cx="342" cy="1118.6" r="8"/><text class="t tc" x="351" y="1125.6">Fusarium_oxysporum_f.sp._albedinis_Foa44.fa_Contig1</text></g>
<g id="C9"><circle class="nd" cx="320" cy="1141.2" r="2.4"/><text class="t tc" x="323" y="1148.2">Fusarium_oxysporum_f._sp._conglutinans_VPRI44253_ecotypeAustralia.fna_JAMSGH010000000.1</text></g>
<g id="C10"><circle class="gd" cx="310" cy="1163.9" r="8"/><text class="t tc" x="319" y="1170.9">Fusarium_oxysporum_f.sp._albedinis_9.fa_scaffold_36</text></g>
<g id="C11"><circle class="gd" cx="295" cy="1186.5" r="8"/><text class="t tc" x="304" y="1193.5">Fusarium_oxysporum_f.sp._albedinis_Foa133.fa_contig_2022</text></g>
<g id="C12"><circle class="nd" cx="268" cy="1209.2" r="2.4"/><text class="t tc" x="271" y="1216.2">Fusarium_oxysporum_f._sp._niveum_R2.fna_JACRUZ010000836.1</text></g>
<g id="C13"><circle class="nd" cx="210" cy="1231.8" r="2.4"/><text class="t tc" x="213" y="1238.8">Fusarium_oxysporum_f.sp._matthiolae_Stocks4.fa_JAJGYP010000019.1</text></g>
<g id="C14"><circle class="nd" cx="380" cy="1254.5" r="2.4"/><text class="t tc" x="383" y="1261.5">Fusarium_oxysporum_f._sp._melonis_NRRL26174.fna_WUBM01000036.1</text></g>
<g id="C15"><circle class="nd" cx="380" cy="1277.1" r="2.4"/><text class="t tc" x="383" y="1284.1">Fusarium_oxysporum_f._sp._melonis_R1213.fna_JAAIIY010001452.1</text></g>
<g id="C16"><circle class="gd" cx="372" cy="1299.8" r="8"/><text class="t tc" x="381" y="1306.8">Fusarium_oxysporum_f.sp._albedinis_Foa133.fa_contig_840</text></g>
<g id="C17"><circle class="nd" cx="372" cy="1322.4" r="2.4"/><text class="t tc" x="375" y="1329.4">Fusarium_oxysporum_f._sp._apii_NRRL38295.fa_JAAOOP010000009.1</text></g>
<g id="C18"><circle class="nd" cx="372" cy="1345.1" r="2.4"/><text class="t tc" x="375" y="1352.1">Fusarium_oxysporum_f._sp._apii_274.AC.fa_JAAOOQ010000012.1</text></g>
<g id="C19"><circle class="nd" cx="371" cy="1367.7" r="2.4"/><text class="t tc" x="374" y="1374.7">Fusarium_oxysporum_f._sp._fragariae_F79.fna_WIMS01001724.1</text></g>
<g id="C20"><circle class="nd" cx="371" cy="1390.4" r="2.4"/><text class="t tc" x="374" y="1397.4">Fusarium_oxysporum_f._sp._fragariae_F74.fna_WIMT01001758.1</text></g>
<g id="C21"><circle class="nd" cx="323" cy="1413" r="2.4"/><text class="t tc" x="326" y="1420">Fusarium_oxysporum_f.sp.lycopersici_MN25.fa_contig_158</text></g>
<g id="C22"><circle class="nd" cx="323" cy="1435.7" r="2.4"/><text class="t tc" x="326" y="1442.7">Fusarium_oxysporum_f.sp.lycopersici_4287.fa_contig_14</text></g>
<g id="C23"><circle class="nd" cx="235" cy="1458.3" r="2.4"/><text class="t tc" x="238" y="1465.3">Fusarium_oxysporum_f.sp.radicis-cucumerinum_Forc016.fa_contig_11</text></g>
<g id="C24"><circle class="nd" cx="235" cy="1481" r="2.4"/><text class="t tc" x="238" y="1488">Fusarium_oxysporum_f._sp._conglutinans_VPRI44253_ecotypeAustralia.fna_JAMSGH010002092.1</text></g>
<g id="C25"><circle class="nd" cx="254" cy="1503.6" r="2.4"/><text class="t tc" x="257" y="1510.6">Fusarium_oxysporum_f.sp.tulipae_VPRI44263.fa_JAMSFO010000695.1</text></g>
<g id="C26"><circle class="nd" cx="254" cy="1526.3" r="2.4"/><text class="t tc" x="257" y="1533.3">Fusarium_oxysporum_f.sp._cepae_FocA23.fa_contig_1947</text></g>
<g id="C27"><circle class="nd" cx="238" cy="1548.9" r="2.4"/><text class="t tc" x="241" y="1555.9">Fusarium_oxysporum_f.sp.tulipae_VPRI44264.fa_JAMSFN010001675.1</text></g>
<g id="C28"><circle class="nd" cx="224" cy="1571.6" r="2.4"/><text class="t tc" x="227" y="1578.6">Fusarium_oxysporum_f.sp._narcissi_N139.fa_contig_1485</text></g>
<g id="C29"><circle class="nd" cx="209" cy="1594.2" r="2.4"/><text class="t tc" x="211" y="1601.2">Fusarium_oxysporum_f.sp.tulipae_VPRI44265.fa_JAMSFM010001977.1</text></g>
<g id="C30"><circle class="nd" cx="221" cy="1616.9" r="2.4"/><text class="t tc" x="224" y="1623.9">Fusarium_oxysporum_f._sp._fragariae_F79.fna_WIMS01000099.1</text></g>
<g id="C31"><circle class="nd" cx="221" cy="1639.5" r="2.4"/><text class="t tc" x="224" y="1646.5">Fusarium_oxysporum_f._sp._fragariae_F74.fna_WIMT01000088.1</text></g>
<g id="C32"><circle class="nd" cx="205" cy="1662.2" r="2.4"/><text class="t tc" x="208" y="1669.2">Fusarium_odoratissimum_Foc4_1.fa_contig_172</text></g>
<g id="C33"><circle class="nd" cx="205" cy="1684.8" r="2.4"/><text class="t tc" x="208" y="1691.8">Fusarium_oxysporum_f.sp._cubense_TR4.fa_contig_12</text></g>
<g id="C34"><circle class="nd" cx="189" cy="1707.5" r="2.4"/><text class="t tc" x="192" y="1714.5">Fusarium_oxysporum_f.sp._cubense_TR4.fa_contig_7</text></g>
<g id="C35"><circle class="nd" cx="173" cy="1730.1" r="2.4"/><text class="t tc" x="176" y="1737.1">Fusarium_oxysporum_f.sp.cubense_race1.fa_contig_242</text></g>
<g id="C36"><circle class="nd" cx="158" cy="1752.8" r="2.4"/><text class="t tc" x="161" y="1759.8">Fusarium_oxysporum_f.sp._cubense_160527.fa_contig_2</text></g>
<g id="C37"><circle class="nd" cx="158" cy="1775.4" r="2.4"/><text class="t tc" x="161" y="1782.4">Fusarium_oxysporum_f.sp._pisi_HDV247.fa_contig_44</text></g>
<g id="C38"><circle class="nd" cx="213" cy="1798.1" r="2.4"/><text class="t tc" x="216" y="1805.1">Fusarium_oxysporum_f.sp._cepae_FoCFus2.fa_contig_10</text></g>
<g id="C39"><circle class="nd" cx="213" cy="1820.7" r="2.4"/><text class="t tc" x="216" y="1827.7">Fusarium_oxysporum_f.sp.tulipae_VPRI44266.fa_JAMSFL010000757.1</text></g>
<g id="C40"><circle class="nd" cx="199" cy="1843.4" r="2.4"/><text class="t tc" x="202" y="1850.4">Fusarium_oxysporum_f.sp._tulipae_Tu67.fa_NJBS01001190.1</text></g>
<g id="C41"><circle class="nd" cx="184" cy="1866" r="2.4"/><text class="t tc" x="187" y="1873">Fusarium_oxysporum_f.sp._cepae_FoC125.fa_contig_2082</text></g>
<g id="C42"><circle class="nd" cx="206" cy="1888.7" r="2.4"/><text class="t tc" x="209" y="1895.7">Fusarium_odoratissimum_NRRL54006.fa_contig_85</text></g>
<g id="C43"><circle class="nd" cx="206" cy="1911.3" r="2.4"/><text class="t tc" x="209" y="1918.3">Fusarium_oxysporum_f.sp.raphani_54005.fa_contig_1052</text></g>
<g id="C44"><circle class="nd" cx="317" cy="1934" r="2.4"/><text class="t tc" x="320" y="1941">Fusarium_oxysporum_f._sp._lini_456.fna_JAHHCZ010000045.1_2</text></g>
<g id="C45"><circle class="nd" cx="317" cy="1956.6" r="2.4"/><text class="t tc" x="320" y="1963.6">Fusarium_oxysporum_f._sp._lini_483.fna_JAHHCW010000055.1</text></g>
<g id="C46"><circle class="nd" cx="304" cy="1979.3" r="2.4"/><text class="t tc" x="307" y="1986.3">Fusarium_oxysporum_f._sp._lini_483.fna_JAHHCW010000054.1</text></g>
<g id="C47"><circle class="nd" cx="366" cy="2001.9" r="2.4"/><text class="t tc" x="369" y="2008.9">Fusarium_oxysporum_f._sp._conglutinans_Fo5176.fna_CM024361.1</text></g>
<g id="C48"><circle class="nd" cx="367" cy="2024.6" r="2.4"/><text class="t tc" x="370" y="2031.6">Fusarium_oxysporum_f._sp._matthiolae_Stocks4.fa_JAJGYP010000013.1</text></g>
<g id="C49"><circle class="nd" cx="353" cy="2047.2" r="2.4"/><text class="t tc" x="356" y="2054.2">Fusarium_oxysporum_f.sp.matthiolae_PHW726.fa_WJXY01000225.1</text></g>
<g id="C50"><circle class="nd" cx="327" cy="2069.9" r="2.4"/><text class="t tc" x="330" y="2076.9">Fusarium_oxysporum_f.sp.raphani_54005.fa_contig_549</text></g>
<g id="C51"><circle class="nd" cx="425" cy="2092.5" r="2.4"/><text class="t tc" x="428" y="2099.5">Fusarium_oxysporum_f._sp._apii_207.fa_JAAOOO010000019.1</text></g>
<g id="C52"><circle class="gd" cx="477" cy="2115.2" r="8"/><text class="t tc" x="486" y="2122.2">Fusarium_oxysporum_f.sp._albedinis_9.fa_scaffold_26</text></g>
<g id="C53"><circle class="gd" cx="477" cy="2137.8" r="8"/><text class="t tc" x="486" y="2144.8">Fusarium_oxysporum_f.sp.albedinis_13116.fa_JACWCA010001303.1</text></g>
<g id="C54"><circle class="gd" cx="462" cy="2160.5" r="8"/><text class="t tc" x="471" y="2167.5">Fusarium_oxysporum_f.sp._albedinis_Foa44.fa_Contig23</text></g>
<g id="C55"><circle class="nd" cx="455" cy="2183.1" r="2.4"/><text class="t tc" x="458" y="2190.1">Fusarium_oxysporum_f.sp.vasinfectum_25433.fa_contig_413</text></g>
<g id="C56"><circle class="nd" cx="446" cy="2205.8" r="2.4"/><text class="t tc" x="449" y="2212.8">Fusarium_oxysporum_f.sp.vasinfectum_25433.fa_contig_493</text></g>
<g id="C57"><circle class="nd" cx="444" cy="2228.4" r="2.4"/><text class="t tc" x="447" y="2235.4">Fusarium_oxysporum_f._sp._niveum_R2.fna_JACRUZ010000470.1</text></g>
<g id="C58"><circle class="nd" cx="279" cy="2251.1" r="2.4"/><text class="t tc" x="282" y="2258.1">Fusarium_oxysporum_f.sp.vasinfectum_25433.fa_contig_621</text></g>
<g id="C59"><circle class="nd" cx="279" cy="2273.7" r="2.4"/><text class="t tc" x="282" y="2280.7">Fusarium_oxysporum_f._sp._lini_483.fna_JAHHCW010000025.1</text></g>
<g id="C60"><circle class="nd" cx="235" cy="2296.4" r="2.4"/><text class="t tc" x="238" y="2303.4">Fusarium_oxysporum_f.sp.matthiolae_PHW726.fa_WJXY01000256.1</text></g>
<g id="C61"><circle class="nd" cx="230" cy="2319" r="2.4"/><text class="t tc" x="233" y="2326">Fusarium_oxysporum_f.sp._cepae_FoCFus2.fa_contig_16</text></g>
<g id="C62"><circle class="nd" cx="230" cy="2341.7" r="2.4"/><text class="t tc" x="233" y="2348.7">Fusarium_oxysporum_f.sp._cepae_FoC125.fa_contig_1243</text></g>
</g>
<g id="C-boxes"><rect class="box" x="282" y="1053" width="741" height="145"/><rect class="box" x="351" y="1279" width="610" height="34"/><rect class="box" x="438" y="2101" width="675" height="70"/></g>
<g id="C-scale"><path class="sb" d="M13 2362H89M13 2355V2369M89 2355V2369"/><text class="st" x="13" y="2388" font-size="20">0.159939</text></g>

<!-- ================= PANEL D ================= -->
<text class="pl" x="1207" y="1137" font-size="30">D</text>
<g id="D-connectors">
<path class="br" d="M1078 1242V1325.3M1078 1242H1184M1078 1325.3H1184
M1184 1221.8V1262.2M1184 1221.8H1267M1184 1262.2H1289
M1267 1211.7V1231.9M1267 1211.7H1281M1267 1231.9H1298
M1289 1252.1V1272.3M1289 1252.1H1290
M1184 1302.6V1348.1M1184 1302.6H1328M1184 1348.1H1255
M1328 1292.5V1312.7
M1255 1332.9V1363.2M1255 1332.9H1320M1255 1363.2H1276
M1276 1353.1V1373.3M1276 1353.1H1278M1276 1373.3H1278"/>
</g>
<g id="D-internal">
<g id="D-root"><circle class="rt" cx="1076" cy="1283.7" r="3"/><text class="bs bq" x="1073" y="1296.7">1</text></g>
<g id="D-n97"><circle class="nd" cx="1267" cy="1221.8" r="2.4"/><text class="bs bq" x="1264" y="1234.8">97</text></g>
<g id="D-n99"><circle class="nd" cx="1289" cy="1262.2" r="2.4"/><text class="bs bq" x="1286" y="1275.2">99</text></g>
<g id="D-nT100"><circle class="nd" cx="1184" cy="1242" r="2.4"/><text class="bs bq" x="1181" y="1255">100</text></g>
<g id="D-n100c"><circle class="nd" cx="1328" cy="1302.6" r="2.4"/><text class="bs bq" x="1325" y="1315.6">100</text></g>
<g id="D-n72"><circle class="nd" cx="1255" cy="1348.1" r="2.4"/><text class="bs bq" x="1252" y="1361.1">72</text></g>
<g id="D-n54"><circle class="nd" cx="1276" cy="1363.2" r="2.4"/><text class="bs bq" x="1273" y="1376.2">54</text></g>
<g id="D-nB100"><circle class="nd" cx="1184" cy="1325.3" r="2.4"/><text class="bs bq" x="1181" y="1338.3">100</text></g>
</g>
<g id="D-leaves">
<g id="D1"><circle class="nd" cx="1281" cy="1211.7" r="2.2"/><text class="t td" x="1284" y="1217.7">Fusarium_oxysporum_f.sp._pisi_HDV247.fa_contig_196</text></g>
<g id="D2"><circle class="nd" cx="1298" cy="1231.9" r="2.2"/><text class="t td" x="1301" y="1237.9">Fusarium_oxysporum_f.sp.lycopersici_4287.fa_contig_72</text></g>
<g id="D3"><circle class="nd" cx="1290" cy="1252.1" r="2.2"/><text class="t td" x="1293" y="1258.1">Fusarium_oxysporum_f._sp._niveum_R2.fna_JACRUZ010001063.1</text></g>
<g id="D4"><circle class="gd" cx="1297" cy="1272.3" r="7.5"/><text class="t td" x="1304" y="1278.3">Fusarium_oxysporum_f.sp._albedinis_Foa44.fa_Contig8</text></g>
<g id="D5"><circle class="gd" cx="1336" cy="1292.5" r="7.5"/><text class="t td" x="1343" y="1298.5">Fusarium_oxysporum_f.sp._albedinis_Foa133.fa_contig_1493</text></g>
<g id="D6"><circle class="gd" cx="1336" cy="1312.7" r="7.5"/><text class="t td" x="1343" y="1318.7">Fusarium_oxysporum_f.sp.albedinis_13116.fa_JACWCA010002064.1</text></g>
<g id="D7"><circle class="nd" cx="1320" cy="1332.9" r="2.2"/><text class="t td" x="1323" y="1338.9">Fusarium_oxysporum_f.sp.lycopersici_4287.fa_contig_14_2</text></g>
<g id="D8"><circle class="nd" cx="1278" cy="1353.1" r="2.2"/><text class="t td" x="1281" y="1359.1">Fusarium_oxysporum_f.sp.lycopersici_MN25.fa_contig_126</text></g>
<g id="D9"><circle class="nd" cx="1278" cy="1373.3" r="2.2"/><text class="t td" x="1281" y="1379.3">Fusarium_oxysporum_f.sp.lycopersici_4287.fa_contig_14</text></g>
</g>
<g id="D-boxes"><rect class="box" x="1275" y="1253" width="508" height="28"/><rect class="box" x="1324" y="1280" width="557" height="42"/></g>
<g id="D-scale"><path class="sb" d="M1064 1392H1132M1064 1386V1398M1132 1386V1398"/><text class="st" x="1065" y="1415" font-size="17">0.15789</text></g>

<!-- ================= PANEL E ================= -->
<text class="pl" x="1049" y="1570" font-size="30">E</text>
<g id="E-connectors">
<path class="br" d="M1017 1673.6V1841.6M1017 1673.6H1131M1017 1841.6H1131
M1131 1607.2V1740.1M1131 1607.2H1175M1131 1740.1H1162
M1175 1567V1647.5M1175 1567H1225M1175 1647.5H1215
M1225 1555V1578.9M1225 1555H1227M1225 1578.9H1227
M1215 1614.7V1680.4M1215 1614.7H1243M1215 1680.4H1238
M1243 1602.8V1626.6M1243 1602.8H1244M1243 1626.6H1244
M1238 1662.5V1698.3M1238 1662.5H1253M1238 1698.3H1239
M1253 1650.5V1674.4M1253 1650.5H1256M1253 1674.4H1256
M1162 1722.2V1758M1162 1722.2H1180M1162 1758H1186
M1186 1746V1769.9M1186 1746H1231M1186 1769.9H1193
M1131 1805.7V1877.4M1131 1805.7H1203M1131 1877.4H1176
M1203 1793.8V1817.7M1203 1793.8H1205M1203 1817.7H1205
M1176 1853.5V1901.3M1176 1853.5H1207M1176 1901.3H1200
M1207 1841.6V1865.4M1207 1841.6H1212M1207 1865.4H1212
M1200 1889.3V1913.2M1200 1889.3H1202M1200 1913.2H1202"/>
</g>
<g id="E-internal">
<g id="E-root"><circle class="rt" cx="1015" cy="1757.6" r="3"/><text class="bs be" x="1012" y="1772.6">1</text></g>
<g id="E-n100L"><circle class="nd" cx="1225" cy="1567" r="2.6"/><text class="bs be" x="1222" y="1582">100</text></g>
<g id="E-n79"><circle class="nd" cx="1243" cy="1614.7" r="2.6"/><text class="bs be" x="1240" y="1629.7">79</text></g>
<g id="E-n1"><circle class="nd" cx="1253" cy="1662.5" r="2.6"/><text class="bs be" x="1250" y="1677.5">1</text></g>
<g id="E-n60"><circle class="nd" cx="1238" cy="1680.4" r="2.6"/><text class="bs be" x="1235" y="1695.4">60</text></g>
<g id="E-n94"><circle class="nd" cx="1215" cy="1647.5" r="2.6"/><text class="bs be" x="1212" y="1662.5">94</text></g>
<g id="E-n66"><circle class="nd" cx="1175" cy="1607.2" r="2.6"/><text class="bs be" x="1172" y="1622.2">66</text></g>
<g id="E-n99"><circle class="nd" cx="1186" cy="1758" r="2.6"/><text class="bs be" x="1183" y="1773">99</text></g>
<g id="E-n80"><circle class="nd" cx="1162" cy="1740.1" r="2.6"/><text class="bs be" x="1159" y="1755.1">80</text></g>
<g id="E-nT100"><circle class="nd" cx="1131" cy="1673.6" r="2.6"/><text class="bs be" x="1128" y="1688.6">100</text></g>
<g id="E-n100r"><circle class="nd" cx="1203" cy="1805.7" r="2.6"/><text class="bs be" x="1200" y="1820.7">100</text></g>
<g id="E-n100s"><circle class="nd" cx="1207" cy="1853.5" r="2.6"/><text class="bs be" x="1204" y="1868.5">100</text></g>
<g id="E-n98"><circle class="nd" cx="1200" cy="1901.3" r="2.6"/><text class="bs be" x="1197" y="1916.3">98</text></g>
<g id="E-n91"><circle class="nd" cx="1176" cy="1877.4" r="2.6"/><text class="bs be" x="1173" y="1892.4">91</text></g>
<g id="E-nB100"><circle class="nd" cx="1131" cy="1841.6" r="2.6"/><text class="bs be" x="1128" y="1856.6">100</text></g>
</g>
<g id="E-leaves">
<g id="E1"><circle class="nd" cx="1227" cy="1555" r="2.4"/><text class="t te" x="1230" y="1562">Fusarium_oxysporum_f.sp.lycopersici_MN25.fa_contig_253</text></g>
<g id="E2"><circle class="nd" cx="1227" cy="1578.9" r="2.4"/><text class="t te" x="1230" y="1585.9">Fusarium_oxysporum_f.sp.lycopersici_4287.fa_contig_14</text></g>
<g id="E3"><circle class="nd" cx="1244" cy="1602.8" r="2.4"/><text class="t te" x="1247" y="1609.8">Fusarium_oxysporum_f._sp._niveum_HAR.fna_JAOBTG010000845.1</text></g>
<g id="E4"><circle class="nd" cx="1244" cy="1626.6" r="2.4"/><text class="t te" x="1247" y="1633.6">Fusarium_oxysporum_f._sp._niveum_W2.fna_JAPYLW010001409.1</text></g>
<g id="E5"><circle class="gd" cx="1264" cy="1650.5" r="8.3"/><text class="t te" x="1272.5" y="1657.5">Fusarium_oxysporum_f.sp._albedinis_Foa133.fa_contig_1054</text></g>
<g id="E6"><circle class="gd" cx="1264" cy="1674.4" r="8.3"/><text class="t te" x="1272.5" y="1681.4">Fusarium_oxysporum_f.sp._albedinis_Foa44.fa_Contig56</text></g>
<g id="E7"><circle class="gd" cx="1247" cy="1698.3" r="8.3"/><text class="t te" x="1256" y="1705.3">Fusarium_oxysporum_f.sp._albedinis_9.fa_scaffold_21</text></g>
<g id="E8"><circle class="nd" cx="1180" cy="1722.2" r="2.4"/><text class="t te" x="1183" y="1729.2">Fusarium_odoratissimum_Foc4_1.fa_contig_60</text></g>
<g id="E9"><circle class="nd" cx="1231" cy="1746" r="2.4"/><text class="t te" x="1234" y="1753">Fusarium_oxysporum_f._sp._niveum_R2.fna_JACRUZ010000846.1</text></g>
<g id="E10"><circle class="nd" cx="1193" cy="1769.9" r="2.4"/><text class="t te" x="1196" y="1776.9">Fusarium_oxysporum_f.sp.cubense_race1.fa_contig_248</text></g>
<g id="E11"><circle class="nd" cx="1205" cy="1793.8" r="2.4"/><text class="t te" x="1208" y="1800.8">Fusarium_oxysporum_f.sp.radicis-cucumerinum_Forc016.fa_contig_11</text></g>
<g id="E12"><circle class="nd" cx="1205" cy="1817.7" r="2.4"/><text class="t te" x="1208" y="1824.7">Fusarium_oxysporum_f.sp.melonis_26406.fa_contig_194</text></g>
<g id="E13"><circle class="nd" cx="1212" cy="1841.6" r="2.4"/><text class="t te" x="1215" y="1848.6">Fusarium_oxysporum_f.sp._cubense_160527.fa_contig_2</text></g>
<g id="E14"><circle class="nd" cx="1212" cy="1865.4" r="2.4"/><text class="t te" x="1215" y="1872.4">Fusarium_oxysporum_f.sp._cubense_160527.fa_contig_2_2</text></g>
<g id="E15"><circle class="nd" cx="1202" cy="1889.3" r="2.4"/><text class="t te" x="1205" y="1896.3">Fusarium_odoratissimum_NRRL54006.fa_contig_102</text></g>
<g id="E16"><circle class="nd" cx="1202" cy="1913.2" r="2.4"/><text class="t te" x="1205" y="1920.2">Fusarium_oxysporum_f.sp._cubense_TR4.fa_contig_7</text></g>
</g>
<g id="E-boxes"><rect class="box" x="1231" y="1637" width="612" height="76"/></g>
<g id="E-scale"><path class="sb" d="M1001 1932H1078M1001 1925V1939M1078 1925V1939"/><text class="st" x="1001" y="1960" font-size="20" clip-path="url(#clipE)">0.247471</text></g>

<rect x="2" y="2" width="1897" height="2390" fill="none" stroke="#000" stroke-width="4"/>
</svg>
